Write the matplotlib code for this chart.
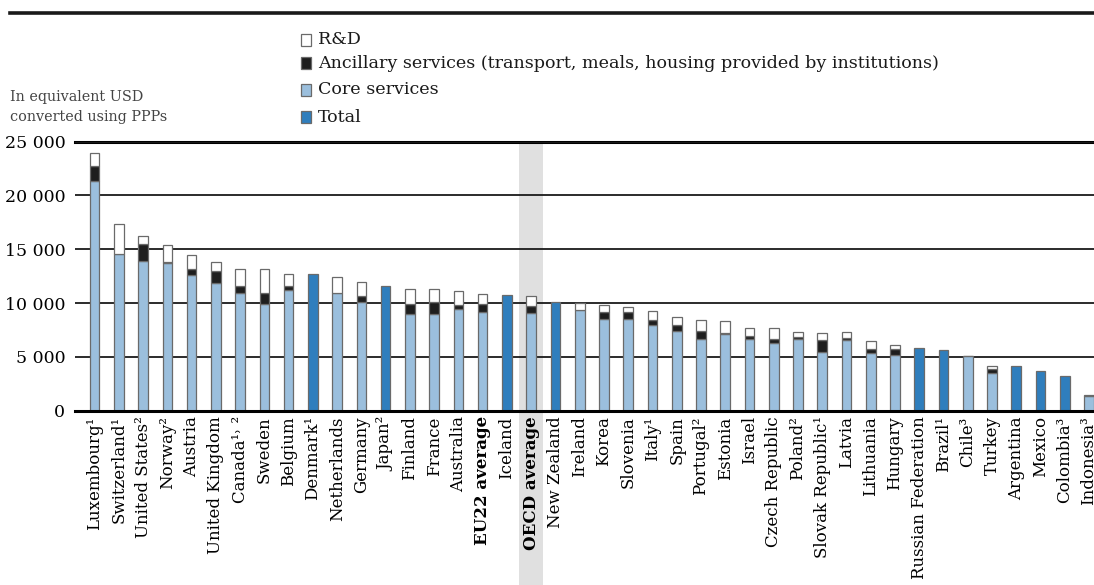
import numpy as np
import matplotlib
matplotlib.use("Agg")
from matplotlib import pyplot as plt
from matplotlib.patches import Rectangle
from matplotlib.transforms import blended_transform_factory

### data ###

countries = ["Luxembourg¹", "Switzerland¹", "United States²", "Norway²", "Austria",
             "United Kingdom", "Canada¹˒ ²", "Sweden", "Belgium", "Denmark¹",
             "Netherlands", "Germany", "Japan²", "Finland", "France", "Australia",
             "EU22 average", "Iceland", "OECD average", "New Zealand", "Ireland",
             "Korea", "Slovenia", "Italy¹", "Spain", "Portugal²", "Estonia", "Israel",
             "Czech Republic", "Poland²", "Slovak Republic¹", "Latvia", "Lithuania",
             "Hungary", "Russian Federation", "Brazil¹", "Chile³", "Turkey",
             "Argentina", "Mexico", "Colombia³", "Indonesia³"]

core = [21350, 14570, 13890, 13730, 12650, 11880, 10925, 9940, 11230, 0,
        10955, 10120, 0, 9010, 8950, 9410, 9195, 0, 9100, 0, 9380,
        8490, 8550, 7960, 7375, 6665, 7160, 6635,
        6295, 6635, 5460, 6540, 5370,
        5215, 0, 0, 5060, 3520,
        0, 0, 0, 1330]

ancillary = [1390, 0, 1570, 100, 530, 1080, 645, 985, 400, 0,
             0, 495, 0, 865, 1170, 400, 680, 0, 620, 0, 0,
             675, 615, 435, 615, 775, 90, 340,
             405, 245, 1080, 190, 400,
             555, 0, 0, 0, 370,
             0, 0, 0, 0]

rd = [1240, 2770, 770, 1600, 1290, 865, 1610, 2255, 1080, 0,
      1485, 1355, 0, 1450, 1205, 1300, 985, 0, 960, 0, 620,
      680, 495, 895, 740, 1015, 1110, 740,
      1015, 465, 710, 620, 710,
      310, 0, 0, 60, 310,
      0, 0, 0, 150]

total = [0, 0, 0, 0, 0, 0, 0, 0, 0, 12710,
         0, 0, 11600, 0, 0, 0, 0, 10710, 0, 10120, 0,
         0, 0, 0, 0, 0, 0, 0,
         0, 0, 0, 0, 0,
         0, 5860, 5650, 0, 0,
         4200, 3670, 3210, 0]

legend_labels = ["R&D",
                 "Ancillary services (transport, meals, housing provided by institutions)",
                 "Core services",
                 "Total"]

### style ###

C_CORE = "#9bbfdd"
C_ANC = "#1e1e1e"
C_RD = "#ffffff"
C_TOT = "#2f7ebd"
C_EDGE = "#6a6a6a"
FONT = "DejaVu Serif"

plt.rcParams["font.family"] = FONT

W, H = 1094, 585
fig = plt.figure(figsize=(W / 100, H / 100), dpi=100)
ax = fig.add_axes([75 / W, 1 - 410.7 / H, 1 - 75 / W, (410.7 - 141.7) / H])

x = np.arange(len(countries))
bw = 0.40
core_a, anc_a, rd_a, tot_a = map(np.array, (core, ancillary, rd, total))

kw = dict(width=bw, edgecolor=C_EDGE, linewidth=0.9, zorder=3)
ax.bar(x, core_a, color=C_CORE, **kw)
ax.bar(x, anc_a, bottom=core_a, color=C_ANC, **kw)
ax.bar(x, rd_a, bottom=core_a + anc_a, color=C_RD, **kw)
mask = tot_a > 0
ax.bar(x[mask], tot_a[mask], color=C_TOT, **kw)

# zero-height segments should not leave edge lines
for cont in ax.containers:
    for r in cont:
        if r.get_height() == 0:
            r.set_visible(False)

# highlight band for OECD average
oecd = countries.index("OECD average")
tr = blended_transform_factory(ax.transData, ax.transAxes)
ax.add_patch(Rectangle((oecd - 0.5, -0.7), 1.0, 1.7, transform=tr,
                       color="#e0e0e0", zorder=0, clip_on=False, linewidth=0))

ax.set_xlim(-0.81, 41.21)
ax.set_ylim(0, 25000)
yt = np.arange(0, 25001, 5000)
ax.set_yticks(yt)
ax.set_yticklabels([f"{v:,}".replace(",", " ") for v in yt], fontsize=12.5)
ax.yaxis.grid(True, color="#1a1a1a", linewidth=1.3, zorder=1)
ax.set_axisbelow(False)
for gl in ax.get_ygridlines():
    gl.set_zorder(1)
ax.tick_params(axis="y", length=0, pad=7)
ax.tick_params(axis="x", length=0, pad=4)
ax.set_xticks(x)
ax.set_xticklabels(countries, rotation=90, fontsize=12)
for lbl in ax.get_xticklabels():
    if "average" in lbl.get_text():
        lbl.set_fontweight("bold")

for s in ["left", "right"]:
    ax.spines[s].set_visible(False)
ax.spines["bottom"].set_linewidth(2.2)
ax.spines["top"].set_linewidth(2.2)
ax.spines["bottom"].set_zorder(4)
ax.patch.set_alpha(0)

# top rule
fig.add_artist(plt.Line2D([10 / W, 1.0], [1 - 13 / H] * 2, color="#1a1a1a", linewidth=2.6))

# unit note
fig.text(10 / W, 1 - 97 / H, "In equivalent USD", fontsize=10.4, va="center", color="#444444")
fig.text(10 / W, 1 - 117 / H, "converted using PPPs", fontsize=10.4, va="center", color="#444444")

# legend
rows_y = [40, 63, 90, 117]
fills = [C_RD, C_ANC, C_CORE, C_TOT]
for yy, fc, lab in zip(rows_y, fills, legend_labels):
    fig.add_artist(Rectangle((300.5 / W, 1 - (yy + 5.5) / H), 10.5 / W, 11 / H,
                             facecolor=fc, edgecolor=C_EDGE, linewidth=0.9))
    fig.text(318 / W, 1 - yy / H, lab, fontsize=12.6, va="center", color="#1a1a1a")

fig.savefig("out.png", dpi=100)
